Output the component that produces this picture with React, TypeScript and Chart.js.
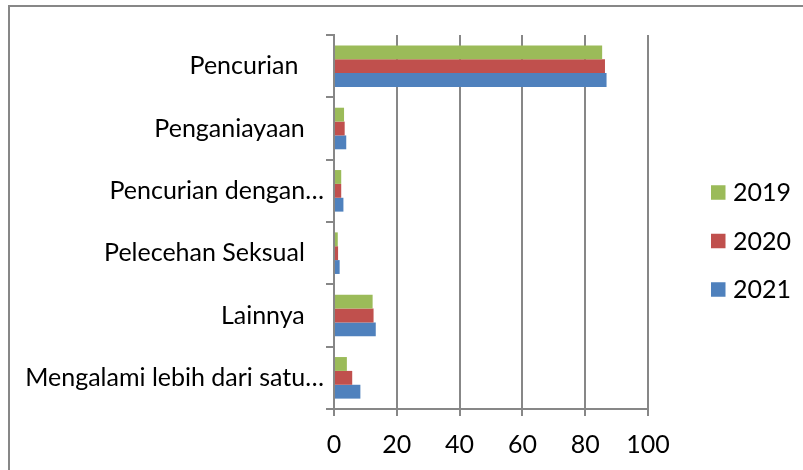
import React, { useEffect, useRef } from "react";
import { Chart, registerables } from "chart.js";

Chart.register(...registerables);

const categories = [
  "Pencurian",
  "Penganiayaan",
  "Pencurian dengan…",
  "Pelecehan Seksual",
  "Lainnya",
  "Mengalami lebih dari satu…",
];
const seriesNames = ["2019", "2020", "2021"];
const values2019 = [85.4, 3.2, 2.3, 1.2, 12.3, 4.1];
const values2020 = [86.3, 3.4, 2.3, 1.3, 12.6, 5.8];
const values2021 = [86.8, 3.9, 3.0, 1.8, 13.3, 8.4];
const seriesColors = ["#9BBB59", "#C0504D", "#4F81BD"];
const xTicks = [0, 20, 40, 60, 80, 100];

const FONT = "Lato, 'Liberation Sans', sans-serif";
const GRID = "#878787";

const legendPlugin = {
  id: "sideLegend",
  afterDraw(chart: any) {
    const ctx = chart.ctx;
    ctx.save();
    chart.data.datasets.forEach((ds: any, i: number) => {
      const cy = 192.5 + i * 48.5;
      ctx.fillStyle = ds.backgroundColor;
      ctx.fillRect(711, cy - 7.25, 14.5, 14.5);
      ctx.fillStyle = "#000";
      ctx.font = `25px ${FONT}`;
      ctx.textBaseline = "alphabetic";
      ctx.textAlign = "left";
      ctx.fillText(ds.label, 733, cy + 8.5);
    });
    ctx.restore();
  },
};

export default function App() {
  const ref = useRef<HTMLCanvasElement>(null);
  useEffect(() => {
    if (!ref.current) return;
    const chart = new Chart(ref.current, {
      type: "bar",
      data: {
        labels: categories,
        datasets: [values2019, values2020, values2021].map((v, i) => ({
          label: seriesNames[i],
          data: v,
          backgroundColor: seriesColors[i],
          borderWidth: 0,
          categoryPercentage: 0.667,
          barPercentage: 1,
        })),
      },
      options: {
        indexAxis: "y",
        animation: false,
        responsive: false,
        maintainAspectRatio: false,
        layout: { padding: { left: 0, right: 155, top: 35, bottom: 0 } },
        plugins: {
          legend: { display: false },
          tooltip: { enabled: false },
        },
        scales: {
          x: {
            type: "linear",
            min: 0,
            max: 100,
            afterBuildTicks: (s: any) => {
              s.ticks = xTicks.map((v) => ({ value: v }));
            },
            afterFit: (s: any) => {
              s.height = 61;
            },
            grid: { color: GRID, lineWidth: 2, tickLength: 7, drawTicks: true },
            border: { display: true, color: GRID, width: 2 },
            ticks: {
              color: "#000",
              font: { family: FONT, size: 25 },
              padding: 14,
              maxRotation: 0,
            },
          },
          y: {
            type: "category",
            afterFit: (s: any) => {
              s.width = 334;
            },
            grid: {
              offset: true,
              drawOnChartArea: false,
              drawTicks: true,
              tickLength: 8,
              color: GRID,
              lineWidth: 2,
            },
            border: { display: true, color: GRID, width: 2 },
            ticks: {
              color: "#000",
              font: { family: FONT, size: 25 },
              padding: 2,
              autoSkip: false,
              callback: function (this: any, val: any) {
                const lbl = this.getLabelForValue(val) as string;
                if (lbl.endsWith("…")) return lbl;
                if (lbl === "Pencurian") return lbl + "    ";
                return lbl + "   ";
              },
            },
          },
        },
      },
      plugins: [legendPlugin],
    });
    return () => chart.destroy();
  }, []);
  return (
    <div style={{ position: "fixed", left: 0, top: 0, width: 803, height: 470, background: "#fff" }}>
      <div
        style={{
          position: "absolute",
          left: 8,
          top: 5,
          width: 900,
          height: 600,
          borderLeft: `2px solid ${GRID}`,
          borderTop: `2px solid ${GRID}`,
        }}
      />
      <canvas ref={ref} width={803} height={470} style={{ position: "absolute", left: 0, top: 0 }} />
    </div>
  );
}
